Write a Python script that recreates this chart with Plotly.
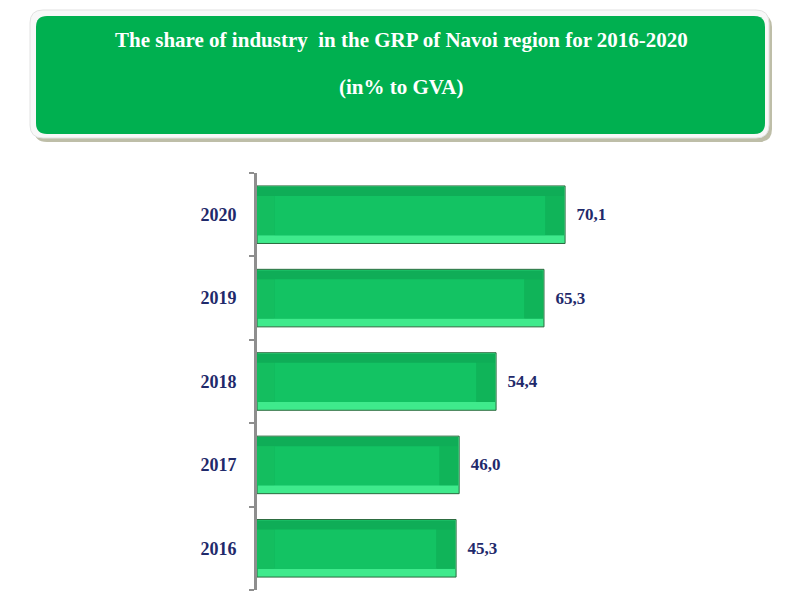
import plotly.graph_objects as go

# ---- data ----
years = ["2016", "2017", "2018", "2019", "2020"]
shares = [45.3, 46.0, 54.4, 65.3, 70.1]
title_line1 = "The share of industry  in the GRP of Navoi region for 2016-2020"
title_line2 = "(in% to GVA)"

labels = ["\u00a0\u00a0<b>" + f"{v:.1f}".replace(".", ",") + "</b>" for v in shares]

PAGE_OFF = 8          # browser body margin
W, H = 784, 584
# reference-pixel layout
REF_L, REF_R, REF_T, REF_B = 257, 780, 173, 590
ML = REF_L - PAGE_OFF
MT = REF_T - PAGE_OFF
MR = W - (REF_R - PAGE_OFF)
MB = H - (REF_B - PAGE_OFF)
XMAX = 119

BW = 0.69          # bar thickness (category units)
B_OFF = -BW / 2
BOT = 0.10         # bottom bevel
TOP = 0.12         # top bevel
LB = 4.0           # left bevel (value units)
RB = 4.5           # right bevel (value units)

fig = go.Figure()

# full bar: light bottom bevel + outline + value label
fig.add_trace(go.Bar(
    y=years, x=shares, orientation="h", width=BW, offset=B_OFF,
    marker=dict(color="#3FEA8C", line=dict(color="#2B6A3E", width=1)),
    text=labels, textposition="outside", cliponaxis=False,
    textfont=dict(family="Liberation Serif", size=17, color="#1F2A6B"),
    hoverinfo="skip", showlegend=False,
))
# top bevel (darker)
fig.add_trace(go.Bar(
    y=years, x=[v - 0.25 for v in shares], base=0.0, orientation="h",
    width=BW - BOT - 0.01, offset=B_OFF + BOT,
    marker=dict(color="#0FAD57", line=dict(width=0)),
    hoverinfo="skip", showlegend=False,
))
# left bevel
fig.add_trace(go.Bar(
    y=years, x=[LB] * len(shares), base=0.0, orientation="h",
    width=BW - BOT - TOP, offset=B_OFF + BOT,
    marker=dict(color="#14BE5F", line=dict(width=0)),
    hoverinfo="skip", showlegend=False,
))
# right bevel
fig.add_trace(go.Bar(
    y=years, x=[RB - 0.25] * len(shares), base=[v - RB for v in shares], orientation="h",
    width=BW - BOT - TOP, offset=B_OFF + BOT,
    marker=dict(color="#10B459", line=dict(width=0)),
    hoverinfo="skip", showlegend=False,
))
# body
fig.add_trace(go.Bar(
    y=years, x=[v - LB - RB for v in shares], base=LB, orientation="h",
    width=BW - BOT - TOP, offset=B_OFF + BOT,
    marker=dict(color="#13C363", line=dict(width=0)),
    hoverinfo="skip", showlegend=False,
))


def px_to_paper(px, py):
    return (px - REF_L) / (REF_R - REF_L), (REF_B - py) / (REF_B - REF_T)


def rounded_rect(x0, y0, x1, y1, r):
    def P(x, y):
        a, b = px_to_paper(x, y)
        return f"{a:.5f},{b:.5f}"
    return (f"M {P(x0 + r, y0)} L {P(x1 - r, y0)} Q {P(x1, y0)} {P(x1, y0 + r)} "
            f"L {P(x1, y1 - r)} Q {P(x1, y1)} {P(x1 - r, y1)} "
            f"L {P(x0 + r, y1)} Q {P(x0, y1)} {P(x0, y1 - r)} "
            f"L {P(x0, y0 + r)} Q {P(x0, y0)} {P(x0 + r, y0)} Z")


shapes = [
    dict(type="path", xref="paper", yref="paper", path=rounded_rect(34, 14, 772, 142, 13),
         fillcolor="#BEBEA8", line=dict(width=0), layer="below"),
    dict(type="path", xref="paper", yref="paper", path=rounded_rect(30, 10, 769, 138, 13),
         fillcolor="#F8F8F8", line=dict(color="#E2E2E2", width=1), layer="below"),
    dict(type="path", xref="paper", yref="paper", path=rounded_rect(36, 16, 765, 134, 11),
         fillcolor="#00B050", line=dict(width=0), layer="below"),
]

ax1, ay1 = px_to_paper(401, 40)
ax2, ay2 = px_to_paper(401, 87)
annotations = [
    dict(text=f"<b>{title_line1}</b>", xref="paper", yref="paper", x=ax1, y=ay1,
         xanchor="center", yanchor="middle", showarrow=False,
         font=dict(family="Liberation Serif", size=21, color="white")),
    dict(text=f"<b>{title_line2}</b>", xref="paper", yref="paper", x=ax2, y=ay2,
         xanchor="center", yanchor="middle", showarrow=False,
         font=dict(family="Liberation Serif", size=21, color="white")),
]

fig.update_layout(
    width=W, height=H,
    margin=dict(l=ML, r=MR, t=MT, b=MB),
    paper_bgcolor="white", plot_bgcolor="white",
    barmode="overlay",
    shapes=shapes, annotations=annotations,
)
fig.update_xaxes(range=[0, XMAX], visible=False, showgrid=False, zeroline=False)
fig.update_yaxes(
    type="category", categoryorder="array", categoryarray=years,
    showline=True, linecolor="#8E8E8E", linewidth=3,
    ticks="outside", tickson="boundaries", ticklen=5, tickwidth=2, tickcolor="#8E8E8E",
    ticklabelstandoff=14,
    tickfont=dict(family="Liberation Serif", size=18, color="#1F2A6B"),
    tickprefix="<b>", ticksuffix="</b>",
    showgrid=False, zeroline=False,
)

fig.write_html("out.html")
